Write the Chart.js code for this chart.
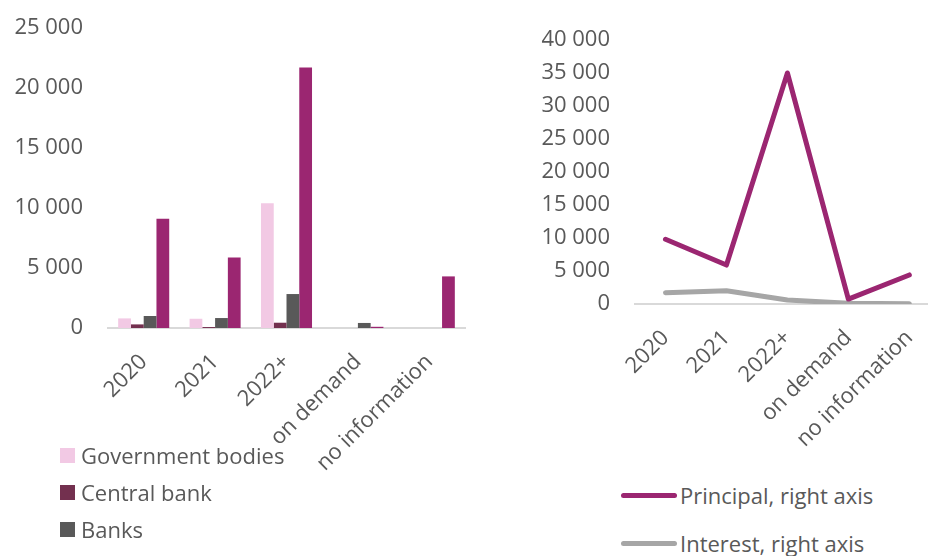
<!DOCTYPE html>
<html>
<head>
<meta charset="utf-8">
<script src="https://cdn.jsdelivr.net/npm/chart.js@4/dist/chart.umd.min.js"></script>
<style>
  body {
    margin: 0;
    width: 928px;
    height: 556px;
    overflow: hidden;
    position: relative;
    background: #fff;
    font-family: 'Open Sans', sans-serif;
    color: #595959;
  }
  .panel { position: absolute; top: 0; }
  .leyenda { position: absolute; font-size: 22px; line-height: 30px; }
  .leyenda-item { position: absolute; left: 0; white-space: nowrap; display: flex; align-items: center; }
  .muestra-barra { width: 15px; height: 15px; margin-right: 6px; }
  .muestra-linea { width: 56px; height: 5px; border-radius: 3px; margin-right: 3px; }
</style>
</head>
<body>
<div class="panel" id="panelBarras" style="left:0"><canvas id="graficaBarras" width="470" height="480"></canvas></div>
<div class="panel" id="panelLineas" style="left:520px"><canvas id="graficaLineas" width="430" height="460"></canvas></div>
<div class="leyenda" id="leyendaBarras" style="left:60px; top:440px"></div>
<div class="leyenda" id="leyendaLineas" style="left:621px; top:480px"></div>

<script>
const categorias = ['2020', '2021', '2022+', 'on demand', 'no information'];

// left panel, by creditor
const governmentBodies = [800, 770, 10400, 0, 0];
const centralBank = [300, 80, 440, 0, 0];
const banks = [1000, 830, 2830, 420, 0];
const other = [9100, 5880, 21700, 100, 4300];

// right panel
const principal = [9800, 5900, 35000, 750, 4400];
const interest = [1700, 2000, 600, 100, 50];

const ticksBarras = [0, 5000, 10000, 15000, 20000, 25000];
const ticksLineas = [0, 5000, 10000, 15000, 20000, 25000, 30000, 35000, 40000];

const FUENTE = { family: "'Open Sans', sans-serif", size: 22 };
const GRIS_TEXTO = '#595959';
const GRIS_EJE = '#d9d9d9';

function formatoMiles(v) {
  return String(v).replace(/\B(?=(\d{3})+(?!\d))/g, ' ');
}

function ejeY(ticks, ancho) {
  return {
    min: ticks[0],
    max: ticks[ticks.length - 1],
    afterBuildTicks: scale => { scale.ticks = ticks.map(v => ({ value: v })); },
    afterFit: scale => {
      // fixed width; top/bottom spacing comes from layout.padding only
      scale.width = ancho;
      scale.paddingTop = 0;
      scale.paddingBottom = 0;
    },
    grid: { display: false, drawTicks: false },
    border: { display: false },
    ticks: { font: FUENTE, color: GRIS_TEXTO, padding: 25, callback: v => formatoMiles(v) }
  };
}

function ejeX(alto) {
  return {
    offset: true,
    afterFit: scale => { scale.height = alto; },
    grid: { display: false, drawTicks: false },
    border: { display: true, color: GRIS_EJE, width: 2 },
    ticks: { font: FUENTE, color: GRIS_TEXTO, minRotation: 45, maxRotation: 45, padding: 21, autoSkip: false }
  };
}

Chart.defaults.animation = false;
Chart.defaults.responsive = false;
Chart.defaults.devicePixelRatio = 1;

const chartBarras = new Chart(document.getElementById('graficaBarras'), {
  type: 'bar',
  data: {
    labels: categorias,
    datasets: [
      { label: 'Government bodies', data: governmentBodies, backgroundColor: '#f2c9e4' },
      { label: 'Central bank', data: centralBank, backgroundColor: '#73304f' },
      { label: 'Banks', data: banks, backgroundColor: '#595959' },
      { label: 'Other', data: other, backgroundColor: '#9b2671' }
    ]
  },
  options: {
    layout: { padding: { top: 28, right: 5, bottom: 2, left: 0 } },
    datasets: { bar: { categoryPercentage: 0.715, barPercentage: 1 } },
    plugins: { legend: { display: false }, tooltip: { enabled: false } },
    scales: { x: ejeX(150), y: ejeY(ticksBarras, 108) }
  }
});

const chartLineas = new Chart(document.getElementById('graficaLineas'), {
  type: 'line',
  data: {
    labels: categorias,
    datasets: [
      { label: 'Principal, right axis', data: principal, borderColor: '#9b2671' },
      { label: 'Interest, right axis', data: interest, borderColor: '#a6a6a6' }
    ]
  },
  options: {
    layout: { padding: { top: 40, right: 10, bottom: 0, left: 0 } },
    elements: {
      line: { borderWidth: 5, tension: 0, borderCapStyle: 'round', borderJoinStyle: 'round' },
      point: { radius: 0 }
    },
    plugins: { legend: { display: false }, tooltip: { enabled: false } },
    scales: { x: ejeX(156), y: ejeY(ticksLineas, 115) }
  }
});

function crearLeyenda(contenedor, chart, tipo, separacion) {
  chart.data.datasets.forEach((ds, idx) => {
    const item = document.createElement('div');
    item.className = 'leyenda-item';
    item.style.top = (idx * separacion) + 'px';

    const muestra = document.createElement('span');
    muestra.className = tipo === 'barra' ? 'muestra-barra' : 'muestra-linea';
    muestra.style.background = tipo === 'barra' ? ds.backgroundColor : ds.borderColor;

    const texto = document.createElement('span');
    texto.textContent = ds.label;

    item.append(muestra, texto);
    contenedor.appendChild(item);
  });
}

crearLeyenda(document.getElementById('leyendaBarras'), chartBarras, 'barra', 37);
crearLeyenda(document.getElementById('leyendaLineas'), chartLineas, 'linea', 48);
</script>
</body>
</html>
